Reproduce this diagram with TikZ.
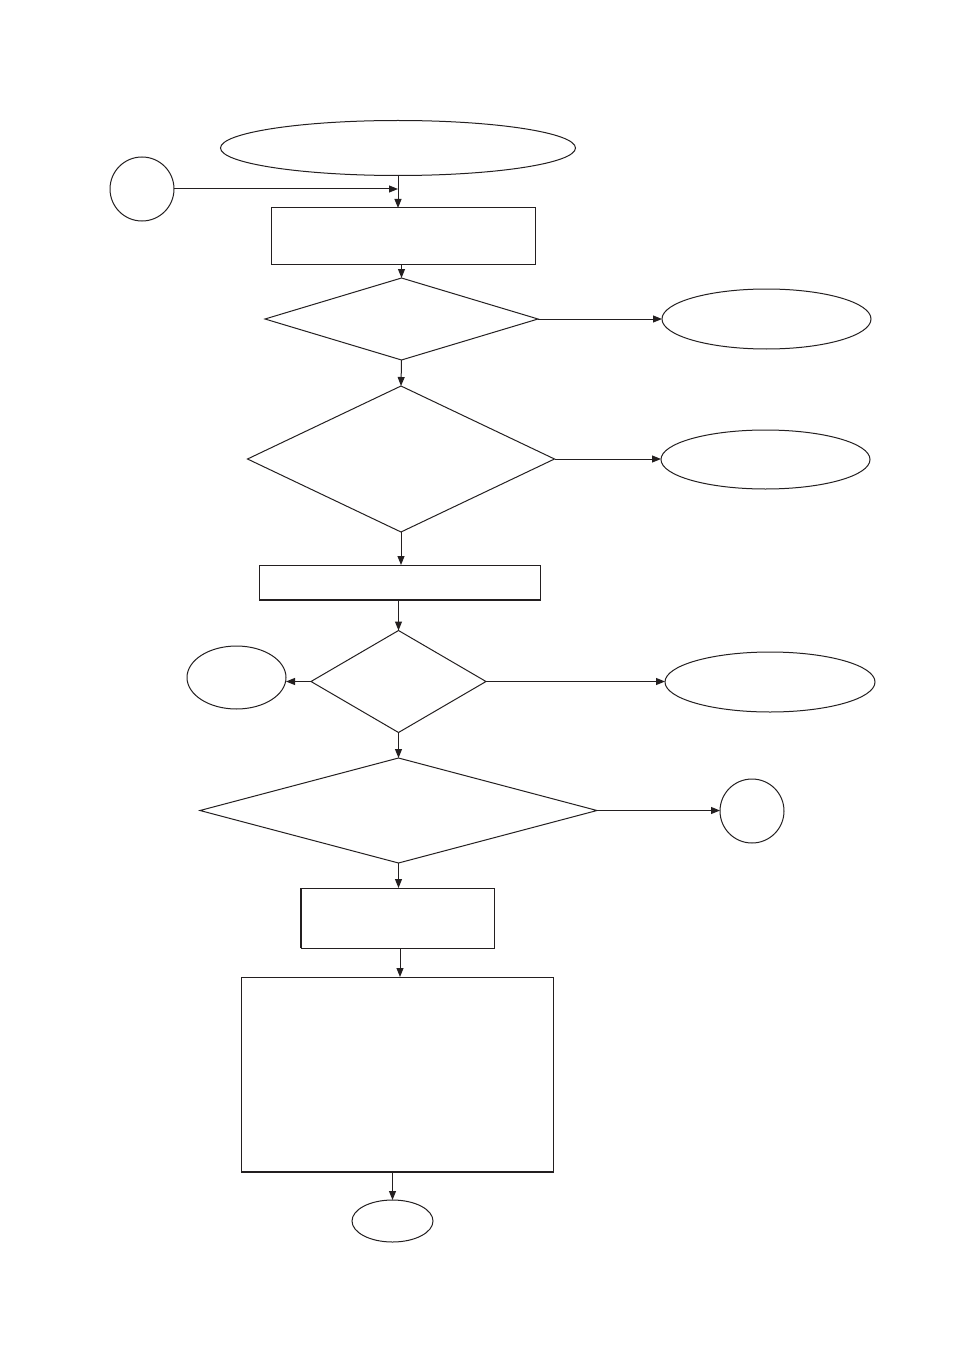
\documentclass[tikz,border=0pt]{standalone}
\usetikzlibrary{shapes.geometric,arrows.meta}
\definecolor{ink}{HTML}{231F20}
\begin{document}
\begin{tikzpicture}[x=1pt,y=-1pt,
  every node/.style={draw=ink,line width=1pt,inner sep=0pt,outer sep=0pt},
  oval/.style={ellipse},
  box/.style={rectangle},
  choice/.style={diamond},
  conn/.style={draw=ink,line width=1pt,-{Triangle[length=9pt,width=7pt]}},
  thick edge/.style={draw=ink,line width=2pt}]
\useasboundingbox[fill=white] (0,0) rectangle (954,1348);
% nodes
\node[oval,minimum width=355pt,minimum height=55pt] (e1) at (398,148) {};
\node[circle,minimum size=64pt] (c1) at (142,189) {};
\node[box,minimum width=264pt,minimum height=56pt] (b1) at (403,236) {};
\node[choice,minimum width=273pt,minimum height=82pt] (d1) at (401.5,319) {};
\node[oval,minimum width=209pt,minimum height=60pt] (e2) at (766.5,319) {};
\node[choice,minimum width=307pt,minimum height=146pt] (d2) at (401,459) {};
\node[oval,minimum width=209pt,minimum height=59pt] (e3) at (765.5,459.5) {};
\node[box,minimum width=281pt,minimum height=35pt] (b2) at (399.5,582.5) {};
\node[choice,minimum width=175pt,minimum height=102pt] (d3) at (398.5,681.5) {};
\node[oval,minimum width=99pt,minimum height=63pt] (e4) at (236.5,677.5) {};
\node[oval,minimum width=210pt,minimum height=60pt] (e5) at (770,682) {};
\node[choice,minimum width=397pt,minimum height=105pt] (d4) at (398.5,810.5) {};
\node[circle,minimum size=64pt] (c2) at (752,811) {};
\node[box,minimum width=193pt,minimum height=60pt] (b3) at (397.5,918) {};
\node[box,minimum width=312pt,minimum height=195pt] (b4) at (397,1074.5) {};
\node[oval,minimum width=81pt,minimum height=42pt] (e6) at (392.5,1221) {};
% heavier edges
\draw[thick edge] (b2.south west) -- (b2.south east);
\draw[thick edge] (b3.south west) -- (b3.north west);
\draw[thick edge] (b4.south west) -- (b4.south east);
% connectors
\draw[conn] (c1.east) -- (c1.east -| e1.south);
\draw[conn] (e1.south) -- (e1.south |- b1.north);
\draw[conn] (b1.south -| d1.north) -- (d1.north);
\draw[conn] (d1.east) -- (d1.east -| e2.west);
\draw[conn] (d1.south) -- (d2.north);
\draw[conn] (d2.east) -- (d2.east -| e3.west);
\draw[conn] (d2.south) -- (d2.south |- b2.north);
\draw[conn] (b2.south -| d3.north) -- (d3.north);
\draw[conn] (d3.west) -- (d3.west -| e4.east);
\draw[conn] (d3.east) -- (d3.east -| e5.west);
\draw[conn] (d3.south) -- (d4.north);
\draw[conn] (d4.east) -- (d4.east -| c2.west);
\draw[conn] (d4.south) -- (d4.south |- b3.north);
\draw[conn] ([xshift=2.5pt]b3.south) -- ([xshift=2.5pt]b3.south |- b4.north);
\draw[conn] (b4.south -| e6.north) -- (e6.north);
\end{tikzpicture}
\end{document}
